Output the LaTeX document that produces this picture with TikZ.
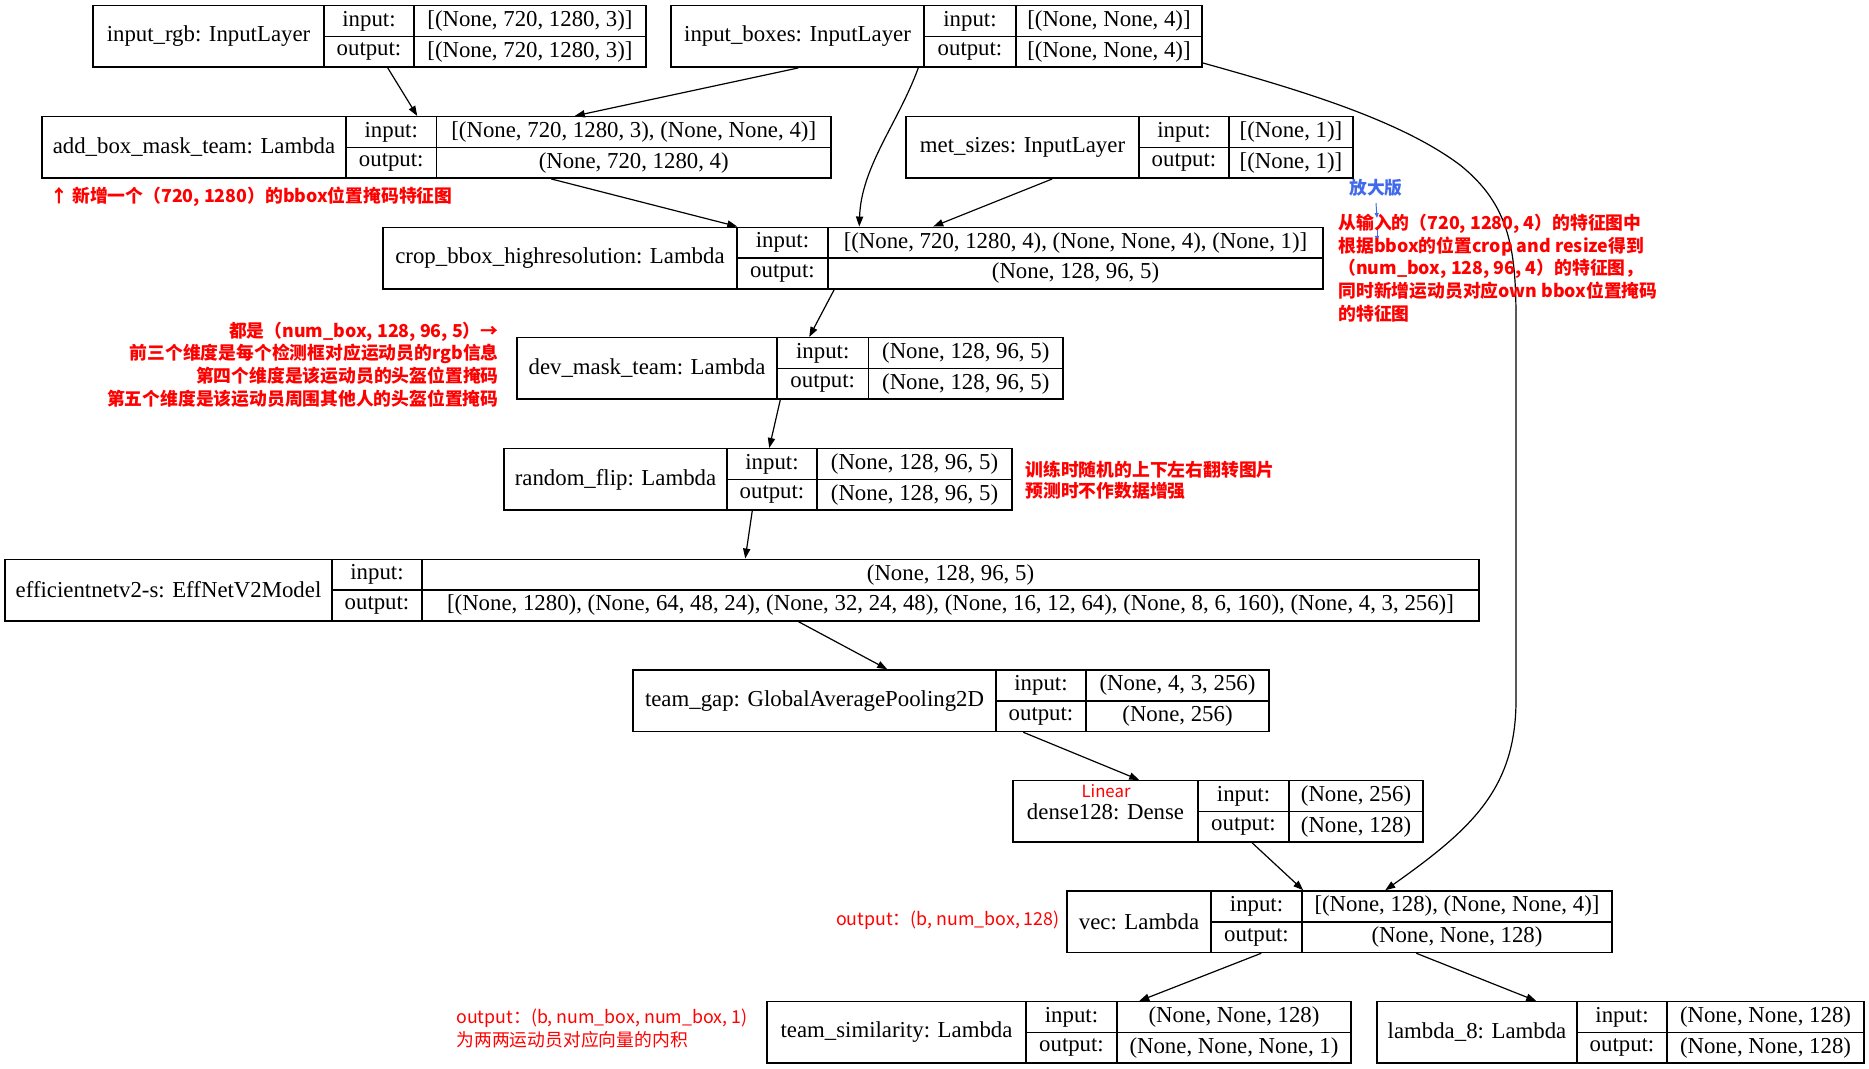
\documentclass[tikz,border=0pt]{standalone}
\usepackage{fontspec}
\setmainfont{Liberation Serif}
\newfontfamily\cjk{Noto Sans CJK SC}
\usetikzlibrary{arrows.meta, calc, fit}

\definecolor{annored}{RGB}{255,0,0}
\definecolor{annoblue}{RGB}{65,105,235}

% one keras layer record: name, label, input, output, left, split1, split2, right, top
\newcommand{\layerbox}[9]{%
  \pgfmathsetmacro\yb{#9+61.5}%
  \pgfmathsetmacro\ym{#9+30.75}%
  \pgfmathsetmacro\yi{#9+15.4}%
  \pgfmathsetmacro\yo{#9+46.1}%
  \node[layer, fit={(#5,#9) (#8,\yb)}] (#1) {};
  \draw[divider] (#6,#9) -- (#6,\yb) (#7,#9) -- (#7,\yb) (#6,\ym) -- (#8,\ym);
  \node[layer text] (#1-name) at ({(#5+#6)/2},\ym) {#2};
  \node[layer text] (#1-inlbl) at ({(#6+#7)/2},\yi) {input:};
  \node[layer text] (#1-outlbl) at ({(#6+#7)/2},\yo) {output:};
  \node[layer text] (#1-in) at ({(#7+#8)/2},\yi) {#3};
  \node[layer text] (#1-out) at ({(#7+#8)/2},\yo) {#4};
}

\begin{document}
\begin{tikzpicture}[
    x=0.5pt, y=-0.5pt,
    layer/.style={draw, line width=0.75pt, inner sep=0pt},
    divider/.style={line width=0.75pt},
    layer text/.style={font=\fontsize{11.4}{13}\selectfont, inner sep=0pt},
    edge/.style={line width=0.6pt, -{Triangle[length=5pt, width=3.6pt]}},
    note/.style={text=annored, inner sep=0pt, font=\cjk\bfseries\fontsize{8.9}{11.4}\selectfont},
    plain note/.style={text=annored, inner sep=0pt, font=\cjk\fontsize{8.9}{11.4}\selectfont},
]
\useasboundingbox (0,0) rectangle (1869,1069);

% --- layers ---
\layerbox{rgb}{input\_rgb: InputLayer}{[(None, 720, 1280, 3)]}{[(None, 720, 1280, 3)]}{93}{324}{414}{646}{5.7}
\layerbox{boxes}{input\_boxes: InputLayer}{[(None, None, 4)]}{[(None, None, 4)]}{671}{924}{1016}{1202}{5.7}
\layerbox{addmask}{add\_box\_mask\_team: Lambda}{[(None, 720, 1280, 3), (None, None, 4)]}{(None, 720, 1280, 4)}{42}{346}{436.5}{831}{116.7}
\layerbox{metsizes}{met\_sizes: InputLayer}{[(None, 1)]}{[(None, 1)]}{906}{1139}{1229}{1353}{116.7}
\layerbox{crop}{crop\_bbox\_highresolution: Lambda}{[(None, 720, 1280, 4), (None, None, 4), (None, 1)]}{(None, 128, 96, 5)}{383}{737}{828}{1323}{227.3}
\layerbox{devmask}{dev\_mask\_team: Lambda}{(None, 128, 96, 5)}{(None, 128, 96, 5)}{517}{777}{868.5}{1063}{337.7}
\layerbox{flip}{random\_flip: Lambda}{(None, 128, 96, 5)}{(None, 128, 96, 5)}{504}{727}{817}{1012}{448.7}
\layerbox{effnet}{efficientnetv2-s: EffNetV2Model}{(None, 128, 96, 5)}{[(None, 1280), (None, 64, 48, 24), (None, 32, 24, 48), (None, 16, 12, 64), (None, 8, 6, 160), (None, 4, 3, 256)]}{5}{332}{422}{1479}{559.3}
\layerbox{gap}{team\_gap: GlobalAveragePooling2D}{(None, 4, 3, 256)}{(None, 256)}{633}{996}{1086}{1269}{670}
\layerbox{dense}{dense128: Dense}{(None, 256)}{(None, 128)}{1013}{1198}{1289}{1423}{780.7}
\layerbox{vec}{vec: Lambda}{[(None, 128), (None, None, 4)]}{(None, None, 128)}{1067}{1211}{1302}{1612}{891}
\layerbox{sim}{team\_similarity: Lambda}{(None, None, 128)}{(None, None, None, 1)}{767}{1026}{1117}{1351}{1001.7}
\layerbox{lam8}{lambda\_8: Lambda}{(None, None, 128)}{(None, None, 128)}{1377}{1577}{1667}{1864}{1001.7}

% --- edges ---
\draw[edge] ($(rgb.south west)+(295.5,0)$) -- ($(addmask.north west)+(376,0)$);
\draw[edge] ($(boxes.south west)+(128,0)$) -- ($(addmask.north west)+(533.5,0)$);
\draw[edge] ($(boxes.south west)+(248,0)$) .. controls +(-20,55) and +(2,-60) .. ($(crop.north west)+(477,0)$);
\draw[edge] ($(metsizes.south west)+(147,0)$) -- ($(crop.north west)+(551,0)$);
\draw[edge] ($(addmask.south west)+(510,0)$) -- ($(crop.north west)+(355,0)$);
\draw[edge] ($(crop.south west)+(452,0)$) -- ($(devmask.north west)+(293,0)$);
\draw[edge] ($(devmask.south west)+(264,0)$) -- ($(flip.north west)+(266,0)$);
\draw[edge] ($(flip.south west)+(249,0)$) -- ($(effnet.north west)+(741,0)$);
\draw[edge] ($(effnet.south west)+(794,0)$) -- ($(gap.north west)+(255,0)$);
\draw[edge] ($(gap.south west)+(391,0)$) -- ($(dense.north west)+(127,0)$);
\draw[edge] ($(dense.south west)+(240,0)$) -- ($(vec.north west)+(237,0)$);
\draw[edge] ($(boxes.south east)+(0,-5)$) .. controls (1300,90) and (1400,120) .. (1460,165)
    .. controls (1510,205) and (1516,250) .. (1516,320) -- (1516,700)
    .. controls (1516,790) and (1470,830) .. ($(vec.north west)+(319,0)$);
\draw[edge] ($(vec.south west)+(195,0)$) -- ($(sim.north west)+(373,0)$);
\draw[edge] ($(vec.south west)+(350,0)$) -- ($(lam8.north west)+(160,0)$);

% --- notes ---
\node[text=annored, inner sep=0pt, font=\cjk\fontsize{8.4}{10}\selectfont] (linear) at (1106,791) {Linear};
\node[note, anchor=west] (maskNote) at (50,197) {↑ 新增一个（720, 1280）的bbox位置掩码特征图};
\node[note, text=annoblue] (zoomNote) at (1376,188) {放大版};
\coordinate (zoomA) at (1377,218);
\coordinate (zoomB) at (1377,229);
\coordinate (zoomC) at (1377,241);
\draw[annoblue, line width=0.5pt, -{Triangle[length=2.5pt, width=2pt]}] (zoomNote.south) ++(0,6) -- (zoomA);
\draw[annoblue, line width=0.5pt, -{Triangle[length=2.5pt, width=2pt]}] (zoomB) -- (zoomC);
\node[note, anchor=west, align=left] (cropNote) at (1338,268)
    {从输入的（720, 1280, 4）的特征图中\\
     根据bbox的位置crop and resize得到\\
     （num\_box, 128, 96, 4）的特征图，\\
     同时新增运动员对应own bbox位置掩码\\
     的特征图};
\node[note, anchor=east, align=right] (devNote) at (499,364.5)
    {都是（num\_box, 128, 96, 5）→\\
     前三个维度是每个检测框对应运动员的rgb信息\\
     第四个维度是该运动员的头盔位置掩码\\
     第五个维度是该运动员周围其他人的头盔位置掩码};
\node[note, anchor=west, align=left, font=\cjk\bfseries\fontsize{8.9}{10.5}\selectfont] (flipNote) at (1025,480)
    {训练时随机的上下左右翻转图片\\
     预测时不作数据增强};
\node[plain note, anchor=east] (vecNote) at (1060,920) {output：(b, num\_box, 128)};
\node[plain note, anchor=west, align=left] (simNote) at (456,1028.5)
    {output：(b, num\_box, num\_box, 1)\\
     为两两运动员对应向量的内积};

\end{tikzpicture}
\end{document}
